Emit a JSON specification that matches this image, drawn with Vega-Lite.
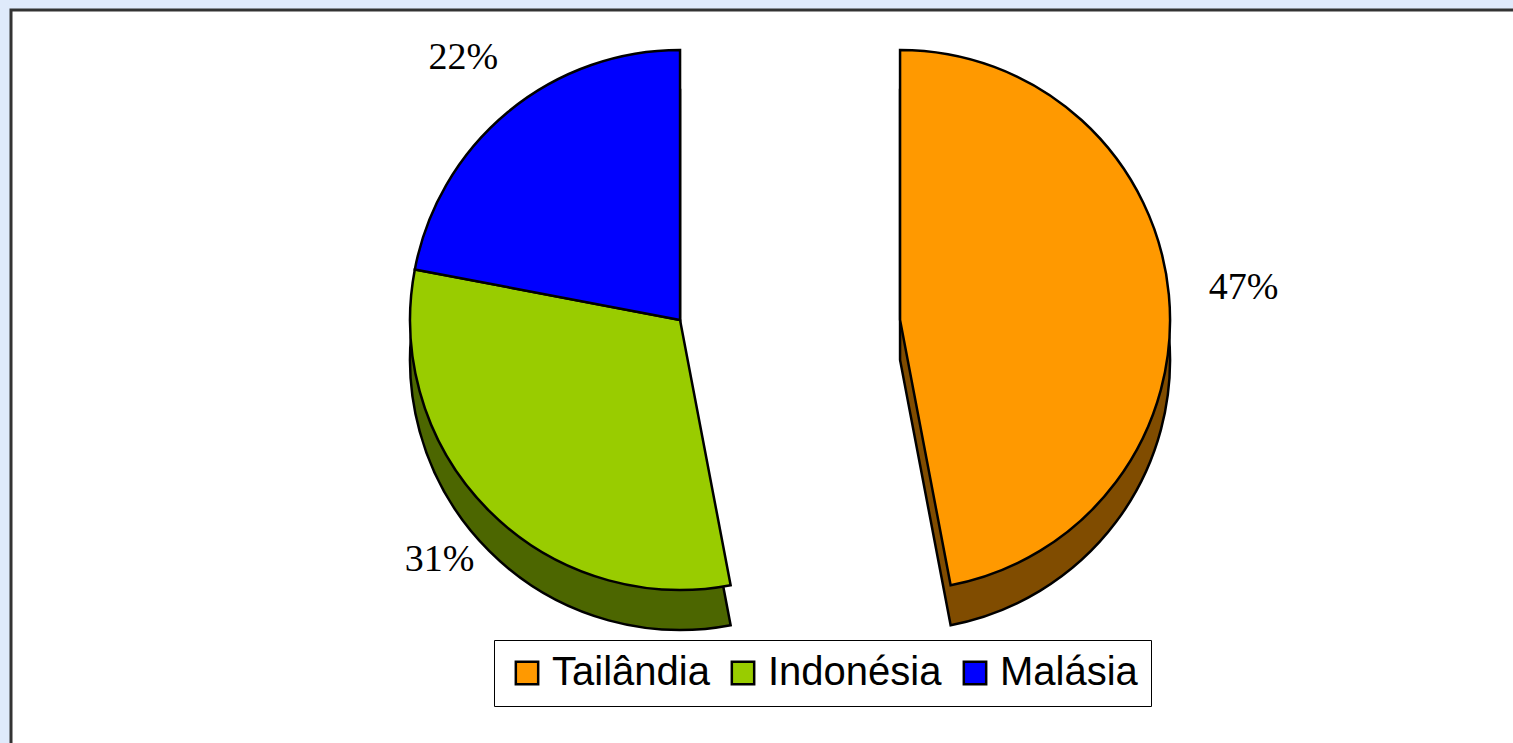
{
  "$schema": "https://vega.github.io/schema/vega-lite/v6.json",
  "width": 1513,
  "height": 743,
  "autosize": {"type": "fit", "contains": "padding"},
  "padding": {"left": 11, "top": 10, "right": 0, "bottom": 0},
  "background": "#DFEAFB",
  "config": {
    "view": {"fill": "white", "stroke": "#333333", "strokeWidth": 3, "strokeDash": [1502, 2235, 740]},
    "font": "Liberation Sans"
  },
  "data": {
    "values": [
      {"country": "Tailândia", "value": 47, "label": "47%", "explode": 1},
      {"country": "Indonésia", "value": 31, "label": "31%", "explode": 0},
      {"country": "Malásia", "value": 22, "label": "22%", "explode": 0}
    ]
  },
  "transform": [
    {"stack": "value", "as": ["v0", "v1"], "sort": [{"field": "value", "order": "descending"}]}
  ],
  "resolve": {"scale": {"color": "independent"}, "legend": {"color": "independent"}},
  "layer": [
    {
      "mark": {"type": "arc", "outerRadius": 270, "stroke": "black", "strokeWidth": 2.5},
      "encoding": {
        "theta": {"field": "v0", "type": "quantitative", "scale": {"domain": [0, 100]}},
        "theta2": {"field": "v1"},
        "x": {"field": "explode", "type": "quantitative", "stack": null, "scale": {"domain": [-3.041, 3.786], "nice": false, "zero": false}, "axis": null},
        "y": {"datum": -1, "type": "quantitative", "scale": {"domain": [-10.575, 7.75], "nice": false, "zero": false}, "axis": null},
        "color": {"field": "country", "type": "nominal", "scale": {"domain": ["Tailândia", "Indonésia", "Malásia"], "range": ["#804C00", "#4C6600", "#000080"]}, "legend": null}
      }
    },
    {
      "mark": {"type": "arc", "outerRadius": 270, "stroke": "black", "strokeWidth": 2.5},
      "encoding": {
        "theta": {"field": "v0", "type": "quantitative", "scale": {"domain": [0, 100]}},
        "theta2": {"field": "v1"},
        "x": {"field": "explode", "type": "quantitative", "stack": null},
        "y": {"datum": 0, "type": "quantitative"},
        "color": {
          "field": "country", "type": "nominal",
          "scale": {"domain": ["Tailândia", "Indonésia", "Malásia"], "range": ["#FF9900", "#99CC00", "#0000FF"]},
          "legend": {
            "title": null, "orient": "none", "legendX": 483, "legendY": 630, "direction": "horizontal",
            "strokeColor": "black", "fillColor": "white", "padding": 13,
            "labelFont": "Liberation Sans", "labelFontSize": 40, "labelColor": "black", "labelLimit": 400,
            "symbolType": "square", "symbolSize": 500, "symbolStrokeColor": "black", "symbolStrokeWidth": 2.5,
            "labelOffset": 5, "columnPadding": 13
          }
        }
      }
    },
    {
      "mark": {"type": "text", "radius": 340, "font": "Liberation Serif", "fontSize": 38, "color": "black"},
      "encoding": {
        "theta": {"field": "value", "type": "quantitative", "stack": true, "scale": {"domain": [0, 100]}},
        "order": {"field": "value", "sort": "descending"},
        "detail": {"field": "country"},
        "x": {"datum": 0, "type": "quantitative"},
        "y": {"datum": 0, "type": "quantitative"},
        "text": {"field": "label"},
        "opacity": {"condition": {"test": "datum.explode == 1", "value": 0}, "value": 1}
      }
    },
    {
      "transform": [{"filter": "datum.explode == 1"}],
      "mark": {"type": "text", "radius": 345, "font": "Liberation Serif", "fontSize": 38, "color": "black"},
      "encoding": {
        "theta": {"field": "value", "type": "quantitative", "stack": true, "scale": {"domain": [0, 100]}},
        "order": {"field": "value", "sort": "descending"},
        "detail": {"field": "country"},
        "x": {"datum": 1, "type": "quantitative"},
        "y": {"datum": 0, "type": "quantitative"},
        "text": {"field": "label"}
      }
    }
  ]
}
